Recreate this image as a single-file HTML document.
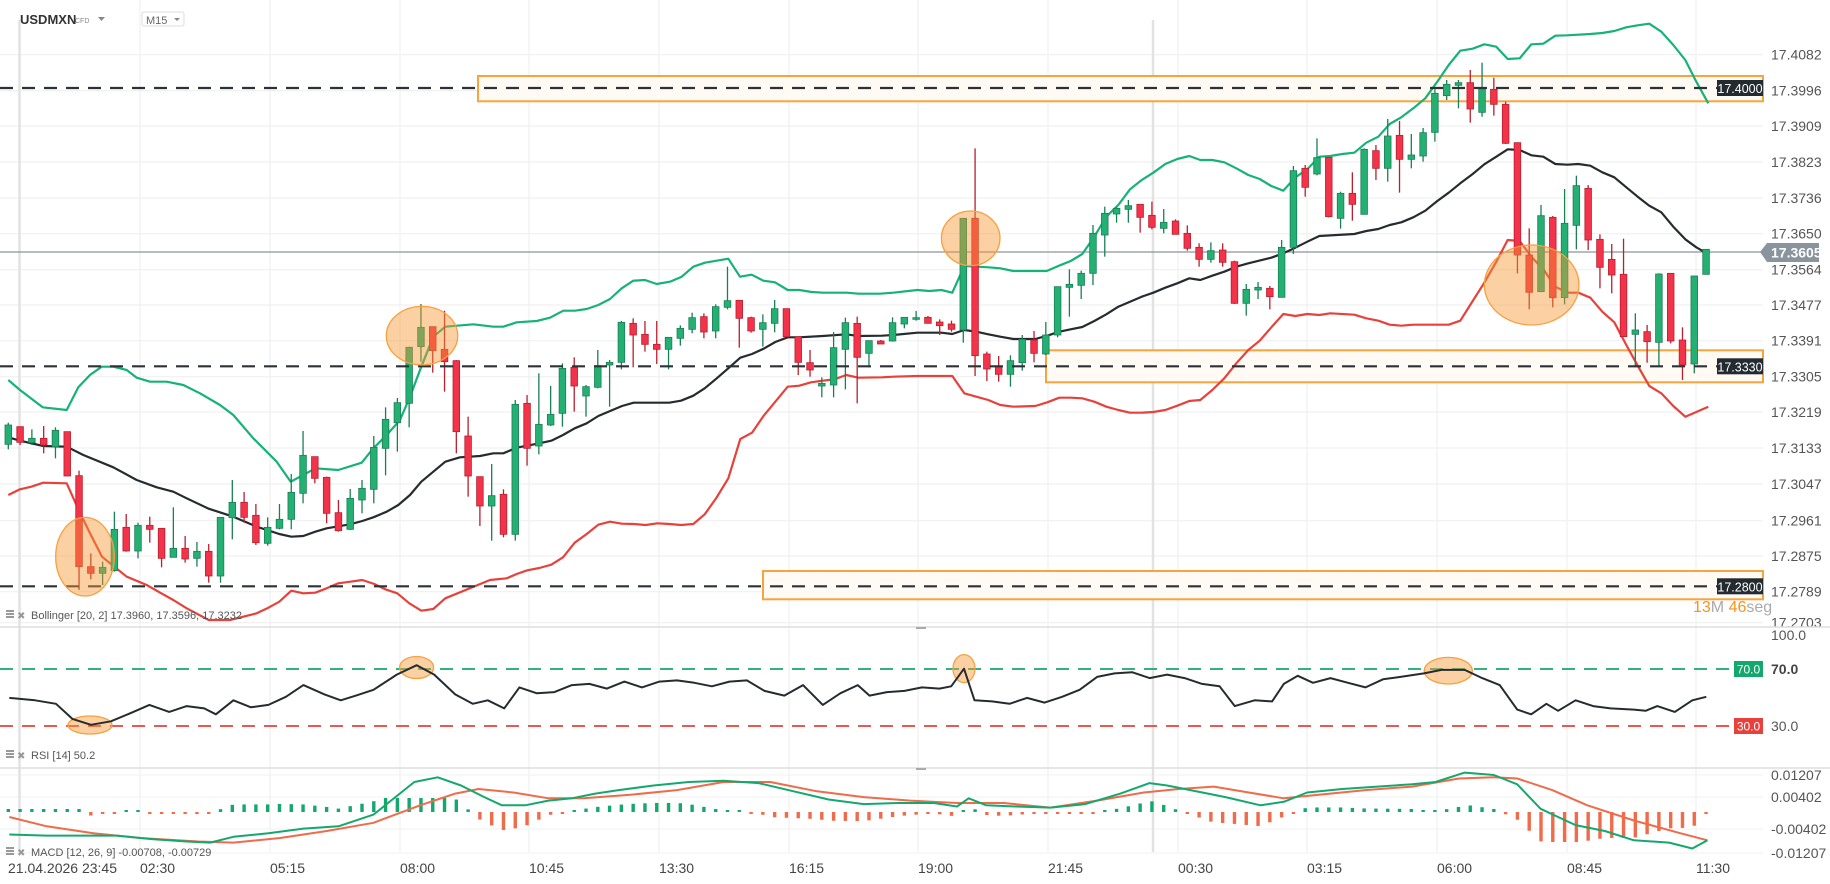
<!DOCTYPE html>
<html><head><meta charset="utf-8"><style>
html,body{margin:0;padding:0;background:#fff;}
svg{display:block;font-family:"Liberation Sans",Arial,sans-serif;}
</style></head><body>
<svg id="c" width="1830" height="884" viewBox="0 0 1830 884" xmlns="http://www.w3.org/2000/svg"></svg>
<script>
const S=document.getElementById('c');let out='';
function add(s){out+=s;}
const K=1.1671;
function cv(a,ox,oy,s){return a.map(p=>[ox+p[0]/s,oy+p[1]/s]);}
function pl(p,col,w,extra){return `<polyline fill="none" stroke="${col}" stroke-width="${w}" stroke-linejoin="round" ${extra||''} points="${p.map(q=>q[0].toFixed(1)+','+q[1].toFixed(1)).join(' ')}"/>`;}
const ticks=[[17.4082,54.7],[17.3996,90.7],[17.3909,126],[17.3823,162],[17.3736,198],[17.3650,233.7],[17.3564,269.7],[17.3477,305],[17.3391,340.7],[17.3305,376.7],[17.3219,412],[17.3133,448],[17.3047,484],[17.2961,520.7],[17.2875,556],[17.2789,591.7],[17.2703,622.7]];
const gx=[140,270,400,529,659,789,918,1048,1178,1307,1437,1567,1696];
gx.forEach(x=>add(`<line x1="${x}" y1="0" x2="${x}" y2="852" stroke="#f0f0f0" stroke-width="1.2"/>`));
ticks.forEach(t=>add(`<line x1="0" y1="${t[1]}" x2="1763" y2="${t[1]}" stroke="#f0f0f0" stroke-width="1.2"/>`));
[775,797,829,853].forEach(y=>add(`<line x1="0" y1="${y}" x2="1763" y2="${y}" stroke="#f2f2f2" stroke-width="1"/>`));
add(`<line x1="19.5" y1="20" x2="19.5" y2="852" stroke="#e2e2e2" stroke-width="2.5"/>`);
add(`<line x1="1153" y1="20" x2="1153" y2="852" stroke="#e2e2e2" stroke-width="2.5"/>`);
function zone(x1,y1,y2){add(`<rect x="${x1}" y="${y1}" width="${1763-x1}" height="${y2-y1}" fill="#fffaf4" stroke="#f7a33e" stroke-width="2"/>`);}
zone(478,76,101.3);zone(1046,350.3,382.3);zone(763,571,599.3);
add(`<line x1="0" y1="252" x2="1763" y2="252" stroke="#8a949c" stroke-width="1.2"/>`);
const U3=[[25,390],[60,420],[128,472],[200,480],[235,412],[270,375],[305,350],[340,350],[380,360],[410,383],[450,395],[500,395],[550,405],[600,430],[660,465],[700,495],[760,565],[830,635],[872,695],[910,675],[946,655],[1015,660],[1085,638],[1120,595],[1160,555],[1200,510],[1230,440],[1264,350],[1300,260],[1336,230],[1380,220]];
const M3=[[25,562],[60,572],[130,588],[200,590],[250,615],[340,652],[410,690],[470,712],[520,725],[560,745],[626,776],[700,800],[770,830],[838,852],[874,860],[910,858],[946,845],[980,835],[1050,823],[1087,813],[1120,802],[1160,785],[1195,765],[1230,735],[1264,695],[1300,665],[1336,635],[1380,622]];
const L3=[[25,735],[60,718],[94,710],[130,698],[200,700],[236,780],[270,850],[306,920],[343,950],[380,980],[440,1005],[484,1030],[520,1050],[560,1075],[626,1110],[690,1110],[730,1100],[770,1090],[802,1075],[838,1055],[874,1022],[910,1030],[946,1028],[980,1015],[1015,1000],[1051,995],[1087,990],[1123,1002],[1156,1018],[1192,1030],[1228,1060],[1264,1082],[1300,1077],[1336,1045],[1380,1020]];
const U4=[[0,635],[40,612],[100,613],[160,620],[190,620],[230,607],[290,603],[330,593],[370,572],[405,572],[440,567],[475,555],[510,537],[545,505],[580,482],[615,480],[650,492],[690,485],[725,470],[760,440],[795,428],[865,416],[900,470],[935,464],[970,482],[1005,487],[1043,510],[1078,510],[1115,516],[1150,518],[1220,518],[1255,521],[1320,521],[1380,515]];
const M4=[[0,1040],[20,1025],[60,1012],[120,1008],[160,1000],[190,1000],[230,983],[298,970],[334,962],[369,945],[404,925],[440,910],[475,888],[546,858],[581,848],[652,848],[688,848],[723,842],[760,827],[794,805],[829,776],[865,745],[901,713],[936,702],[971,686],[1006,666],[1043,652],[1078,652],[1148,648],[1219,643],[1255,648],[1326,647],[1380,643]];
const L4=[[150,1380],[200,1375],[230,1362],[262,1351],[298,1344],[334,1334],[369,1312],[404,1268],[440,1242],[475,1214],[510,1205],[546,1211],[581,1212],[617,1215],[652,1210],[688,1212],[723,1215],[760,1212],[794,1183],[829,1134],[865,1075],[901,957],[936,938],[971,887],[1006,845],[1043,800],[1078,797],[1113,787],[1148,782],[1183,778],[1219,765],[1255,773],[1326,772],[1380,768]];
const U5=[[0,582],[40,578],[112,570],[148,573],[184,570],[217,578],[253,498],[289,500],[325,502],[361,505],[400,513],[500,513],[540,496],[572,483],[607,462],[643,410],[679,350],[715,315],[750,268],[785,240],[820,218],[856,192],[892,177],[928,168],[961,180],[997,180],[1033,187],[1069,205],[1105,225],[1139,237],[1174,258],[1210,272],[1246,232],[1282,208],[1318,170],[1352,165],[1380,163]];
const M5=[[0,708],[40,705],[112,698],[184,698],[217,702],[253,690],[289,695],[325,703],[361,710],[400,717],[466,717],[502,707],[538,695],[572,688],[607,681],[643,663],[679,643],[715,620],[750,605],[785,590],[820,578],[856,563],[892,550],[928,535],[961,540],[997,527],[1033,515],[1069,500],[1105,490],[1174,473],[1210,460],[1246,443],[1282,425],[1318,408],[1380,402]];
const L5=[[0,832],[40,830],[112,828],[217,828],[253,880],[289,890],[325,900],[361,915],[400,920],[466,918],[502,907],[538,893],[572,893],[607,895],[643,905],[679,920],[715,930],[750,938],[785,938],[820,936],[856,930],[892,917],[928,903],[961,900],[997,870],[1033,835],[1069,790],[1105,750],[1139,722],[1174,682],[1210,642],[1246,648],[1282,642],[1318,645],[1352,642],[1380,643]];
const U6=[[0,470],[31,468],[67,462],[103,458],[139,428],[175,410],[209,372],[244,352],[280,325],[316,295],[352,245],[386,195],[421,152],[458,146],[493,133],[529,140],[563,177],[599,175],[634,133],[670,131],[706,107],[742,106],[811,102],[847,99],[883,93],[919,82],[953,76],[988,71],[1024,95],[1060,135],[1096,180],[1129,245],[1165,310]];
const M6=[[0,708],[103,702],[139,693],[175,687],[209,675],[244,667],[280,652],[316,632],[352,603],[386,578],[421,550],[458,522],[493,493],[529,470],[563,448],[599,450],[634,466],[670,470],[706,492],[742,494],[775,492],[811,497],[847,517],[883,532],[919,562],[953,590],[988,617],[1024,637],[1060,680],[1096,718],[1129,742],[1165,763]];
const L6=[[0,942],[31,940],[103,944],[139,955],[175,962],[209,974],[244,977],[280,974],[386,974],[421,962],[458,903],[493,848],[529,785],[563,720],[599,723],[634,770],[670,808],[706,860],[742,878],[775,878],[811,893],[847,935],[883,967],[919,1035],[953,1097],[988,1158],[1024,1180],[1060,1218],[1096,1250],[1129,1236],[1165,1220]];
function band(a3,a4,a5,a6){
 let p=[];
 cv(a3,0,250,3).forEach(q=>{if(q[0]<455)p.push(q)});
 cv(a4,440,120,3).forEach(q=>{if(q[0]>=455&&q[0]<893)p.push(q)});
 cv(a5,880,100,3).forEach(q=>{if(q[0]>=893&&q[0]<1328)p.push(q)});
 cv(a6,1320,0,3).forEach(q=>{if(q[0]>=1328)p.push(q)});
 return p;}
add(pl(band(U3,U4,U5,U6),'#16b277',2.2));
add(pl(band(L3,L4,L5,L6),'#e8413b',2.2));
add(pl(band(M3,M4,M5,M6),'#262b30',2.2));
const C3=[[583,525,518,598],[530,577,530,585],[578,565,538,585],[565,585,528,610],[590,541,532,625],[545,678,545,678],[677,950,662,1020],[950,970,910,988],[970,952,935,1005],[962,838,785,965],[832,903,792,905],[903,826,818,925],[826,838,800,878],[835,925,835,952],[922,895,772,922],[895,927,858,938],[925,904,876,950],[904,978,882,998],[978,802,802,998],[803,757,690,868],[757,802,726,818],[796,878,762,885],[880,832,802,887],[835,808,762,838],[808,727,672,838],[730,616,543,760],[620,685,620,700],[682,790,680,820],[788,842,750,845],[838,745,717,840],[750,715,690,790],[718,592,558,760],[595,508,472,676],[518,458,444,605],[460,292,290,532],[290,232,162,335],[230,302,230,368],[298,335,182,425],[332,545,330,610]];
const C4=[[948,1068,890,1130],[1070,1158,1070,1218],[1158,1127,1032,1262],[1123,1243,1108,1252],[1243,853,840,1262],[850,985,825,1037],[978,913,760,1003],[915,883,798,918],[880,745,730,920],[742,798,712,875],[828,800,795,890],[802,737,690,805],[735,727,720,860],[727,607,603,748],[610,645,595,742],[643,673,603,695],[673,688,603,732],[688,652,652,748],[655,625,616,677],[628,593,578,640],[590,636,580,655],[633,560,553,655],[562,542,440,568],[541,595,541,683],[593,633,590,638],[628,608,583,680],[610,566,540,637],[566,650,566,650],[650,727,650,765],[728,750,690,770],[798,790,772,832],[795,683,636,832],[688,608,593,808],[610,712,590,850],[700,662,662,742],[663,672,660,672],[663,608,592,665]];
const C5=[[672,652,652,685],[658,653,633,662],[652,670,648,670],[666,677,658,705],[672,688,662,695],[690,355,355,728],[355,767,145,828],[762,807,755,843],[800,823,768,845],[823,782,766,860],[788,718,705,812],[720,760,693,787],[762,705,666,765],[705,560,560,712],[562,553,508,650],[556,520,512,597],[520,400,375,555],[405,340,320,470],[342,325,322,368],[328,317,300,368],[313,352,313,398],[346,382,305,388],[385,367,327,400],[363,403,358,403],[400,445,376,452],[442,478,430,500],[478,452,427,488],[450,487,430,500],[485,610,482,612],[610,568,552,647],[570,562,546,597],[565,590,558,628],[592,442,420,592],[442,212,198,462],[205,262,195,290],[222,173,115,226],[172,350,172,352]];
const C6=[[655,580,575,686],[580,613,517,662],[643,448,445,643],[452,505,435,540],[505,408,357,545],[406,478,363,578],[478,465,402,505],[468,398,384,485],[397,280,268,425],[287,253,240,300],[256,248,240,325],[248,327,210,368],[337,265,188,350],[268,313,233,347],[313,430,305,432],[428,765,428,820],[765,877,685,928],[875,647,615,875],[652,893,648,922],[893,670,567,913],[676,557,527,748],[565,720,555,750],[718,802,703,865],[778,825,732,880],[823,1010,716,1010],[1003,990,940,1098],[995,1025,975,1088],[1027,822,820,1100],[820,1023,820,1030],[1020,1095,982,1140],[1092,828,828,1120],[823,748,748,823]];
let bars=[];
C3.forEach(b=>bars.push(b.map(v=>250+v/3)));
C4.forEach(b=>bars.push(b.map(v=>120+v/3)));
C5.forEach(b=>bars.push(b.map(v=>100+v/3)));
C6.forEach(b=>bars.push(b.map(v=>v/3)));
bars.forEach((b,i)=>{const x=8.3+i*11.79;const [o,c,h,l]=b;const up=c<=o;
 const f=up?'#24b073':'#f2334a',s=up?'#1a7f55':'#b81f2f';
 add(`<line x1="${x}" y1="${h}" x2="${x}" y2="${l}" stroke="${s}" stroke-width="1.3"/>`);
 const t=Math.min(o,c),hh=Math.max(1.5,Math.abs(o-c));
 add(`<rect x="${x-3.3}" y="${t}" width="6.6" height="${hh}" fill="${f}" stroke="${s}" stroke-width="0.8"/>`);});
[88,366.3,586.3].forEach(y=>add(`<line x1="0" y1="${y}" x2="1717" y2="${y}" stroke="#2b3238" stroke-width="2.2" stroke-dasharray="13 9"/>`));
function ell(cx,cy,rx,ry){add(`<ellipse cx="${cx}" cy="${cy}" rx="${rx}" ry="${ry}" fill="rgba(247,150,50,0.45)" stroke="#f7a040" stroke-width="1.3"/>`);}
ell(85,556.7,29.3,39.3);ell(422,335.7,35.7,29.3);ell(970.7,238.3,29.3,27.3);ell(1531.7,285,47.3,40);
function lab(y,t,bg){add(`<rect x="1717" y="${y-8}" width="46" height="16" fill="${bg}"/><text x="1740" y="${y+5}" font-size="12.5" fill="#fff" text-anchor="middle">${t}</text>`);}
lab(88,'17.4000','#232a30');lab(366.3,'17.3330','#232a30');lab(586.3,'17.2800','#232a30');
ticks.forEach(t=>{if(Math.abs(t[1]-252)>15)add(`<text x="1771" y="${t[1]+5}" font-size="14" fill="#555">${t[0].toFixed(4)}</text>`);});
add(`<polygon points="1760,252 1767,243 1819,243 1819,262 1767,262" fill="#8a949c"/><text x="1771" y="257.5" font-size="14" font-weight="bold" fill="#fff">17.3605</text>`);
add(`<text x="1693" y="612" font-size="16"><tspan fill="#f7931e">13</tspan><tspan fill="#aaa">M </tspan><tspan fill="#f7931e">46</tspan><tspan fill="#aaa">seg</tspan></text>`);
add(`<text x="20" y="24" font-size="13" font-weight="bold" fill="#333">USDMXN</text><text x="75" y="23" font-size="7" fill="#888">CFD</text><polygon points="98,17 105,17 101.5,21" fill="#888"/>`);
add(`<rect x="142" y="12" width="42" height="14" fill="#fff" stroke="#ddd" rx="2"/><text x="146" y="24" font-size="11" fill="#666">M15</text><polygon points="174,18 180,18 177,21" fill="#888"/>`);
function leg(y,t){add(`<rect x="6" y="${y-9}" width="8" height="2" fill="#999"/><rect x="6" y="${y-6}" width="8" height="2" fill="#999"/><rect x="6" y="${y-3}" width="8" height="2" fill="#999"/><text x="17" y="${y}" font-size="10" fill="#999">✖</text><text x="31" y="${y}" font-size="11" fill="#555">${t}</text>`);}
leg(619,'Bollinger [20, 2] 17.3960, 17.3596, 17.3232');
leg(759,'RSI [14] 50.2');
leg(856,'MACD [12, 26, 9] -0.00708, -0.00729');
add(`<line x1="0" y1="627" x2="1830" y2="627" stroke="#ddd" stroke-width="1.5"/><line x1="0" y1="768" x2="1830" y2="768" stroke="#ddd" stroke-width="1.5"/>`);
add(`<rect x="916" y="627" width="10" height="2" fill="#aaa"/><rect x="916" y="768" width="10" height="2" fill="#aaa"/>`);
add(`<line x1="0" y1="669" x2="1734" y2="669" stroke="#14a86e" stroke-width="1.8" stroke-dasharray="13 9"/><line x1="0" y1="726" x2="1734" y2="726" stroke="#e8413b" stroke-width="1.8" stroke-dasharray="13 9"/>`);
add(`<rect x="1734" y="661" width="29" height="16" fill="#14a86e"/><text x="1748.5" y="673.5" font-size="12" fill="#fff" text-anchor="middle">70.0</text>`);
add(`<rect x="1734" y="718" width="29" height="16" fill="#e8413b"/><text x="1748.5" y="730.5" font-size="12" fill="#fff" text-anchor="middle">30.0</text>`);
add(`<text x="1771" y="640" font-size="14" fill="#555">100.0</text><text x="1771" y="674" font-size="14" font-weight="bold" fill="#444">70.0</text><text x="1771" y="731" font-size="14" fill="#555">30.0</text>`);
ell(90,725,22,9);ell(416.6,667.5,17,11);ell(964,668.6,11,14);ell(1448.3,670.7,24,13.3);
const R=[[8,598],[30,600],[48,603],[62,616],[78,621],[95,618],[112,611],[128,604],[145,610],[160,605],[175,607],[185,612],[200,600],[215,606],[230,604],[245,597],[260,587],[278,595],[292,600],[305,596],[320,591],[340,578],[357,570],[372,578],[390,595],[405,603],[418,600],[432,607],[445,589],[460,594],[475,593],[490,587],[505,586],[520,590],[535,584],[550,589],[565,584],[580,583],[595,585],[610,588],[625,584],[640,583],[655,592],[672,596],[688,587],[705,604],[720,594],[735,587],[745,596],[760,593],[775,592],[790,589],[805,590],[815,588],[826,573],[835,600],[850,601],[865,603],[880,598],[895,602],[910,597],[925,591],[940,580],[955,577],[970,576],[985,581],[1000,578],[1015,581],[1030,586],[1045,588],[1058,605],[1075,600],[1090,601],[1100,586],[1112,579],[1125,585],[1140,581],[1155,585],[1170,589],[1185,582],[1200,580],[1220,577],[1235,574],[1255,574],[1270,581],[1285,587],[1300,608],[1312,612],[1325,603],[1335,609],[1350,600],[1365,605],[1380,607],[1400,608],[1410,609],[1420,605],[1435,610],[1450,600],[1462,597]];
add(pl(R.map(p=>[p[0]*K,p[1]*K]),'#262b30',2));
const MG=[[8,715],[40,716],[70,716],[100,716],[130,719],[160,721],[180,722],[200,717],[230,714],[260,710],[290,708],[320,698],[340,682],[355,670],[375,666],[395,673],[415,683],[430,690],[450,690],[470,686],[490,684],[510,680],[530,677],[560,673],[590,670],[620,669],[650,671],[680,678],[710,685],[740,689],[770,688],[800,688],[820,691],[830,684],[845,690],[870,691],[900,692],[930,689],[960,680],[985,671],[1000,673],[1020,677],[1050,683],[1080,690],[1100,687],[1120,679],[1150,676],[1180,674],[1210,672],[1230,670],[1255,662],[1280,664],[1300,672],[1320,693],[1335,700],[1350,707],[1375,712],[1400,720],[1430,722],[1450,727],[1463,720]].map(p=>[p[0]*K,p[1]*K]);
const MO=[[8,700],[40,708],[80,714],[120,718],[170,721],[200,722],[240,718],[280,712],[320,705],[360,690],[390,680],[410,676],[440,679],[470,684],[500,684],[540,681],[580,677],[620,670],[660,670],[700,678],[740,683],[780,686],[820,688],[860,688],[900,692],[940,686],[980,679],[1010,676],[1040,674],[1070,679],[1100,684],[1130,681],[1170,677],[1210,674],[1250,667],[1280,666],[1300,667],[1330,677],[1360,690],[1400,703],[1440,714],[1463,720]].map(p=>[p[0]*K,p[1]*K]);
function ip(a,x){if(x<=a[0][0])return a[0][1];for(let i=1;i<a.length;i++){if(x<=a[i][0]){const t=(x-a[i-1][0])/(a[i][0]-a[i-1][0]);return a[i-1][1]+t*(a[i][1]-a[i-1][1]);}}return a[a.length-1][1];}
for(let i=0;i<145;i++){const x=8.3+i*11.79;let d=(ip(MO,x)-ip(MG,x))*1.3;d=Math.max(-30,Math.min(14,d));if(i<7)d=3;const z=812;
 if(d>=0)add(`<rect x="${x-1.7}" y="${z-Math.max(d,2)}" width="3.4" height="${Math.max(d,2)}" fill="#14a86e"/>`);
 else add(`<rect x="${x-1.7}" y="${z}" width="3.4" height="${Math.max(-d,2)}" fill="#ef6b4a"/>`);}
add(pl(MO,'#ef6b4a',2));add(pl(MG,'#14a86e',2));
[['0.01207',775],['0.00402',797],['-0.00402',829],['-0.01207',853]].forEach(t=>add(`<text x="1771" y="${t[1]+5}" font-size="14" fill="#555">${t[0]}</text>`));
add(`<text x="8" y="873" font-size="14" fill="#444">21.04.2026 23:45</text>`);
['02:30','05:15','08:00','10:45','13:30','16:15','19:00','21:45','00:30','03:15','06:00','08:45','11:30'].forEach((t,i)=>add(`<text x="${gx[i]}" y="873" font-size="14" fill="#444">${t}</text>`));
S.innerHTML=out;
</script>
</body></html>
